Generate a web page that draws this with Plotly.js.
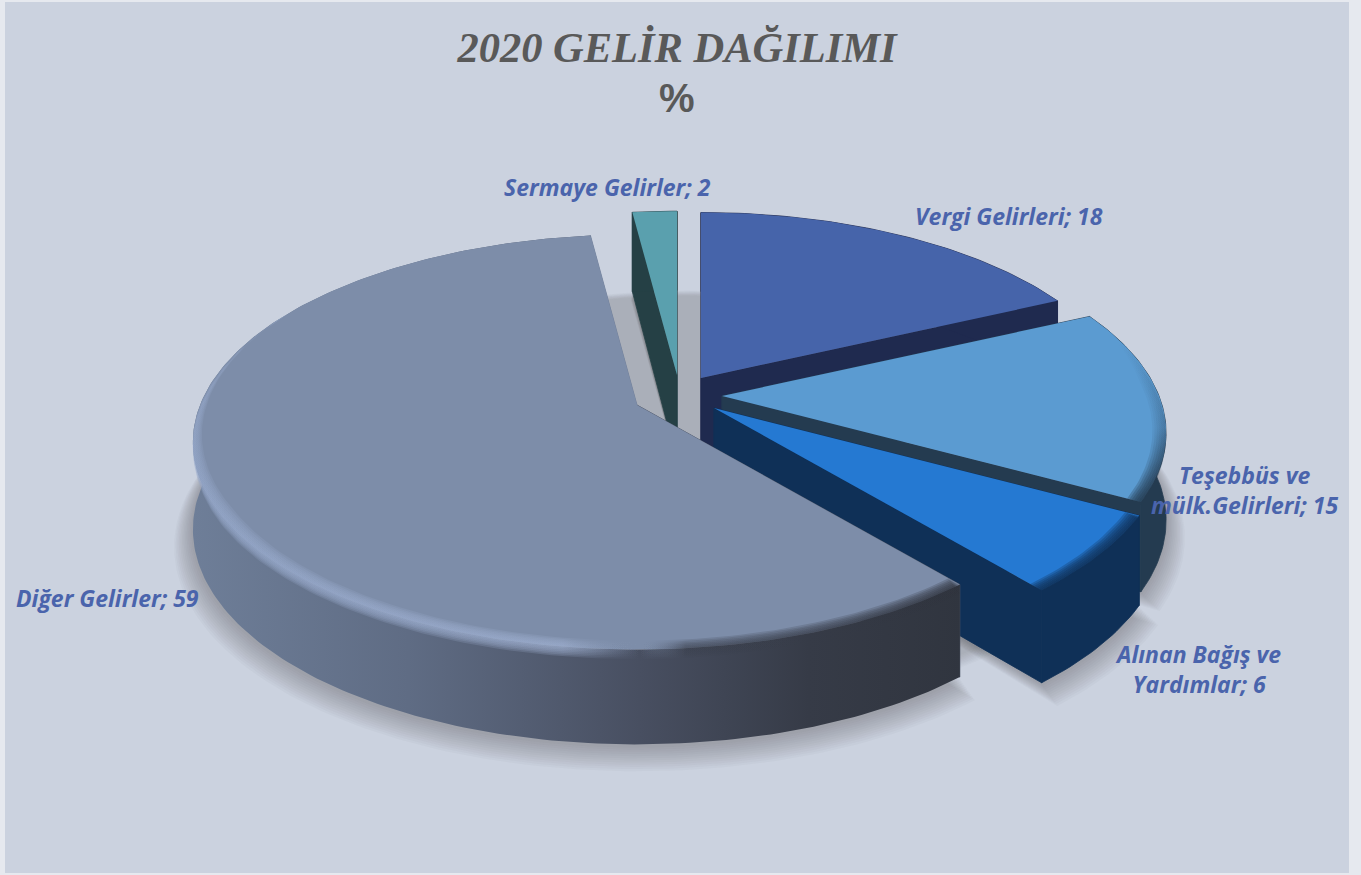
<!DOCTYPE html>
<html><head><meta charset="utf-8">
<script src="https://cdn.plot.ly/plotly-3.0.1.min.js"></script>
<style>html,body{margin:0;padding:0;background:#CBD2DF}#c{width:1361px;height:875px}</style>
</head><body><div id="c"></div>
<script>
// ---- data ----
const categories = ['Vergi Gelirleri','Teşebbüs ve mülk.Gelirleri','Alınan Bağış ve Yardımlar','Diğer Gelirler','Sermaye Gelirler'];
const values = [18, 15, 6, 59, 2];
const labelTexts = ['Vergi Gelirleri; 18','Teşebbüs ve<br>mülk.Gelirleri; 15','Alınan Bağış ve<br>Yardımlar; 6','Diğer Gelirler; 59','Sermaye Gelirler; 2'];
// ---- styles ----
const faceColors = ['#4664AA','#5B9BD1','#2579D2','#7D8DA9','#5AA0AE'];
const wallColors = ['#1F2A4F','#243B50','#0F3057','#4A5365','#254045'];
// ---- projection geometry (last entry: the whole pie's cast shadow) ----
const apexX = [701,722,714,637,677,690], apexY = [378,396,408,405,375,378], sliceScale = [0.97,1,1.015,1,0.96,0.96];
const labelX = [1009,1245,1198,107,607], labelY = [216,490,669,598,187];
const Rx = 437, Ry = 201, K = 0.178, WALL = 86;
const drawOrder = [4,0,1,2,3];
const total = values.reduce((a,b)=>a+b,0);
const startA=[]; let acc=0; values.forEach((v,i)=>{startA[i]=acc; acc+=v/total*360;});
const endA = startA.map((a,i)=>a+values[i]/total*360);
const rad = d=>d*Math.PI/180;
function proj(i,th,r,drop){
  const u=Math.sin(rad(th))*r, v=Math.cos(rad(th))*r, s=1/(1+K*v), sc=sliceScale[i];
  return [apexX[i]+Rx*u*s*sc, apexY[i]-Ry*v*s*sc+(drop?WALL*Math.sqrt(s):0)];
}
function arc(i,a,b,r,drop,rf,lip){
  const pts=[],n=Math.max(4,Math.ceil(Math.abs(b-a)));
  for(let k=0;k<=n;k++){
    const th=a+(b-a)*k/n, q=proj(i,th,rf?rf(th):r,drop);
    if(lip) q[1]+=lip(th);
    pts.push(q);
  }
  return pts;
}
const traces=[];
function poly(pts,fill,extra){
  const p=pts.concat([pts[0]]);
  traces.push(Object.assign({type:'scatter',mode:'lines',x:p.map(q=>q[0]),y:p.map(q=>q[1]),
    fill:'toself',fillcolor:fill,line:{width:0},hoverinfo:'skip',showlegend:false},extra||{}));
}
function solid(pts,fill){ poly(pts,fill,{line:{width:0.8,color:fill}}); }
function grad(type,start,stop,colorscale){return {fillgradient:{type,start,stop,colorscale}};}
// soft shadow: the whole pie behind the gaps, then each slice
for(let j=10;j>=1;j--) poly(arc(5,0,360,1+0.004*(j-5),true),'rgba(85,85,90,0.032)');
for(let j=12;j>=1;j--) values.forEach((v,i)=>{
  const c=proj(i,0,0,true); c[1]+=3;
  const pts=arc(i,startA[i],endA[i],1+0.0034*j,true).map(q=>[q[0],q[1]+1+j*1.1]);
  poly([c].concat(pts),'rgba(85,85,90,0.036)');
});
const wallGrad=[[0,'#6E7E98'],[0.28,'#5F6C84'],[0.58,'#484F61'],[0.8,'#363B47'],[1,'#30353F']];
const rimDark=[
  null,
  {type:'vertical',start:340,stop:500,cs:[[0,'rgba(40,64,88,0)'],[0.55,'rgba(40,64,88,0.25)'],[1,'rgba(36,59,80,1)']],a:66,b:118.8,t0:20,t1:0},
  {type:'horizontal',start:1030,stop:1140,cs:[[0,'rgba(15,48,87,1)'],[1,'rgba(15,48,87,0.9)']],a:118.8,b:140.4,t0:0,t1:0},
  {type:'horizontal',start:193,stop:963,cs:[[0,'rgba(148,166,200,1)'],[0.48,'rgba(155,172,204,0.95)'],[0.58,'rgba(125,141,169,0)'],[0.64,'rgba(60,66,80,0.75)'],[1,'rgba(46,50,60,1)']],a:140.4,b:300,t0:0,t1:60},
  null
];
drawOrder.forEach(i=>{
  const a=startA[i], b=endA[i];
  const apexT=proj(i,0,0,false), apexB=proj(i,0,0,true);
  // radial walls
  solid([apexT,proj(i,a,1,false),proj(i,a,1,true),apexB], wallColors[i]);
  solid([apexT,proj(i,b,1,false),proj(i,b,1,true),apexB], i===3?'#6E7E98':wallColors[i]);
  // outer wall
  const topA=arc(i,a,b,1,false), botA=arc(i,a,b,1,true).reverse();
  poly(topA.concat(botA), wallColors[i], i===3?grad('horizontal',193,963,wallGrad):{line:{width:0.8,color:wallColors[i]}});
  // top face
  poly([apexT].concat(arc(i,a,b,1,false)), faceColors[i]);
  // bevel along the rim, blurred by stacking thin bands
  const R=rimDark[i];
  if(R){
    [0.030,0.025,0.020,0.015,0.010,0.005].forEach(w=>{
      const f=th=>{let g=1; if(R.t0)g=Math.min(g,(th-R.a)/R.t0); if(R.t1)g=Math.min(g,(R.b-th)/R.t1); return Math.max(0,g);};
      const inner=arc(i,R.a,R.b,0,false,th=>1-w*f(th)).reverse();
      const outer=arc(i,R.a,R.b,1,false,null,i===3?th=>w*320*f(th):th=>w*120*f(th));
      poly(outer.concat(inner),'rgba(0,0,0,0)',Object.assign({opacity:i===3?0.24:0.3},grad(R.type,R.start,R.stop,R.cs)));
    });
  }
});
const annotations=categories.map((c,i)=>({xref:'x',yref:'y',x:labelX[i],y:labelY[i],text:labelTexts[i],showarrow:false,
  xanchor:'center',yanchor:'middle',align:'center',font:{family:'"Open Sans",sans-serif',size:23,color:'#4A64AC',weight:700,style:'italic'}}));
annotations.push({xref:'x',yref:'y',x:677,y:98,text:'%',showarrow:false,xanchor:'center',yanchor:'middle',
  font:{family:'"Liberation Sans",sans-serif',size:40,color:'#595959',weight:700}});
const edge={type:'rect',xref:'x',yref:'y',fillcolor:'#E6E9EF',line:{width:0},layer:'above'};
const layout={width:1361,height:875,margin:{l:0,r:0,t:0,b:0},paper_bgcolor:'#CBD2DF',plot_bgcolor:'#CBD2DF',
  showlegend:false,
  title:{text:'2020 GELİR DAĞILIMI',x:677/1361,xref:'paper',xanchor:'center',y:1-47/875,yref:'paper',yanchor:'middle',
    font:{family:'"Liberation Serif",serif',size:42.5,color:'#595959',weight:700,style:'italic'}},
  xaxis:{range:[0,1361],visible:false,fixedrange:true},
  yaxis:{range:[875,0],visible:false,fixedrange:true},
  annotations,
  shapes:[Object.assign({x0:0,x1:5,y0:0,y1:875},edge),Object.assign({x0:0,x1:1361,y0:0,y1:2},edge),
          Object.assign({x0:1349,x1:1361,y0:0,y1:875},edge),Object.assign({x0:0,x1:1361,y0:873,y1:875},edge)]};
Plotly.newPlot('c',traces,layout,{displayModeBar:false,staticPlot:true});
</script></body></html>
